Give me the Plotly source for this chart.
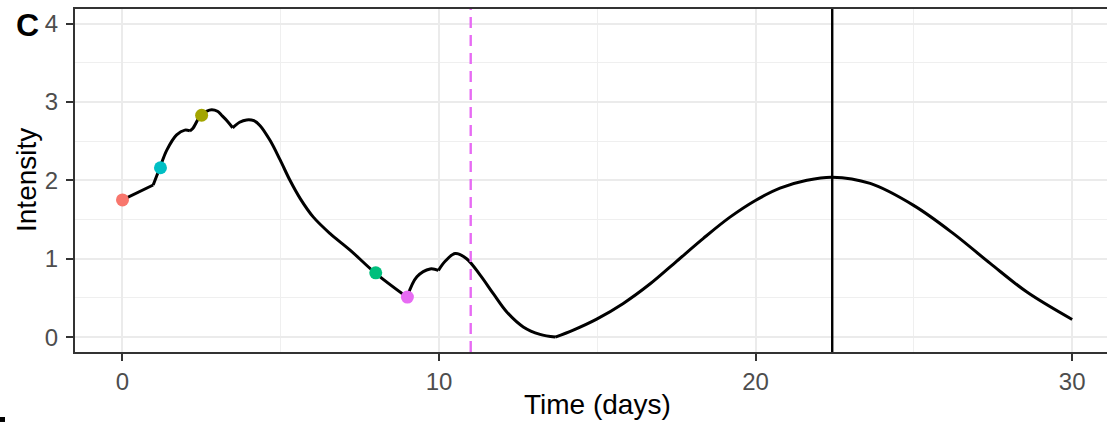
import plotly.graph_objects as go

# ---- data ----
time = [0, 0.97, 1.18, 1.40, 1.71, 1.97, 2.13, 2.22, 2.47, 2.65, 2.82, 3.0, 3.13, 3.30, 3.48,
        3.70, 3.92, 4.15, 4.34, 4.66, 4.98, 5.29, 5.61, 6.03, 6.56, 7.19, 7.98, 8.99,
        9.30, 9.72, 9.98, 10.2, 10.51, 10.87, 11.30, 11.72, 12.14, 12.66, 13.19, 13.67,
        14.24, 14.98, 15.82, 16.67, 17.51, 18.35, 19.19, 19.98, 20.77, 21.62, 22.42,
        23.62, 24.99, 26.25, 27.41, 28.57, 30.0]
intensity = [1.75, 1.94, 2.16, 2.385, 2.58, 2.64, 2.63, 2.66, 2.83, 2.88, 2.90, 2.88, 2.83, 2.76, 2.67,
             2.74, 2.77, 2.76, 2.70, 2.51, 2.26, 2.00, 1.77, 1.53, 1.32, 1.11, 0.82, 0.51,
             0.77, 0.87, 0.85, 0.97, 1.065, 1.00, 0.79, 0.55, 0.32, 0.13, 0.035, 0.0,
             0.09, 0.23, 0.43, 0.68, 0.97, 1.26, 1.53, 1.74, 1.90, 2.00, 2.04,
             1.96, 1.68, 1.32, 0.94, 0.575, 0.225]
kink_times = [0.97, 2.13, 3.48, 8.99, 9.98, 13.67]

marker_time = [0, 1.2, 2.5, 8, 9]
marker_intensity = [1.75, 2.16, 2.83, 0.82, 0.51]
marker_colors = ["#F8766D", "#00BFC4", "#A3A500", "#00BF7D", "#E76BF3"]

dashed_time = 11
peak_time = 22.42

x_ticks = [0, 10, 20, 30]
y_ticks = [0, 1, 2, 3, 4]

fig = go.Figure()

# curve drawn as smooth segments between kinks
bounds = [0] + [time.index(k) for k in kink_times] + [len(time) - 1]
for a, b in zip(bounds[:-1], bounds[1:]):
    fig.add_trace(go.Scatter(
        x=time[a:b + 1], y=intensity[a:b + 1], mode="lines",
        line=dict(color="black", width=3, shape="spline", smoothing=1.0),
        showlegend=False, hoverinfo="skip"))

fig.add_trace(go.Scatter(
    x=marker_time, y=marker_intensity, mode="markers",
    marker=dict(color=marker_colors, size=13, line=dict(width=0)),
    showlegend=False))

fig.add_shape(type="line", xref="x", yref="paper", x0=dashed_time, x1=dashed_time, y0=0, y1=1,
              line=dict(color="#E76BF3", width=2.4, dash="11px,7px"), layer="above")
fig.add_shape(type="line", xref="x", yref="paper", x0=peak_time, x1=peak_time, y0=0, y1=1,
              line=dict(color="black", width=2.4), layer="above")

# small mark at bottom-left corner
fig.add_shape(type="rect", xref="paper", yref="paper",
              x0=-0.0727, x1=-0.0678, y0=-0.204, y1=-0.1895,
              fillcolor="black", line=dict(width=0))

font_family = "Liberation Sans, Arial, Helvetica, sans-serif"

axis_common = dict(
    showline=True, linecolor="#333333", linewidth=2,
    ticks="outside", ticklen=7, tickwidth=2, tickcolor="#333333",
    tickfont=dict(family=font_family, size=24, color="#4D4D4D"),
    showgrid=True, gridcolor="#EBEBEB", gridwidth=2,
    zeroline=False,
)

fig.update_xaxes(**axis_common, range=[-1.5, 31.1], tickvals=x_ticks, mirror=True,
                 minor=dict(dtick=5, tick0=0, showgrid=True, gridcolor="#EFEFEF", gridwidth=1,
                            ticks=""),
                 ticklabelstandoff=0)
fig.update_yaxes(**axis_common, range=[-0.19, 4.185], tickvals=y_ticks, mirror=False,
                 minor=dict(dtick=0.5, tick0=0, showgrid=True, gridcolor="#EFEFEF", gridwidth=1,
                            ticks=""),
                 ticklabelstandoff=3)

fig.update_layout(
    width=1107, height=423,
    margin=dict(l=75, r=0, t=9, b=71),
    plot_bgcolor="white", paper_bgcolor="white",
    font=dict(family=font_family),
    annotations=[
        dict(text="Time (days)", xref="paper", yref="paper", x=(597 - 75) / 1032,
             y=(352 - 405) / 343, xanchor="center", yanchor="middle", showarrow=False,
             font=dict(size=28, color="black", family=font_family)),
        dict(text="Intensity", xref="paper", yref="paper", x=(27 - 75) / 1032, y=(352 - 180) / 343,
             xanchor="center", yanchor="middle", textangle=-90, showarrow=False,
             font=dict(size=28, color="black", family=font_family)),
        dict(text="<b>C</b>", xref="paper", yref="paper", x=(27 - 75) / 1032, y=(352 - 25) / 343,
             xanchor="center", yanchor="middle", showarrow=False,
             font=dict(size=32, color="black", family=font_family)),
    ],
)

fig.write_html("out.html")
